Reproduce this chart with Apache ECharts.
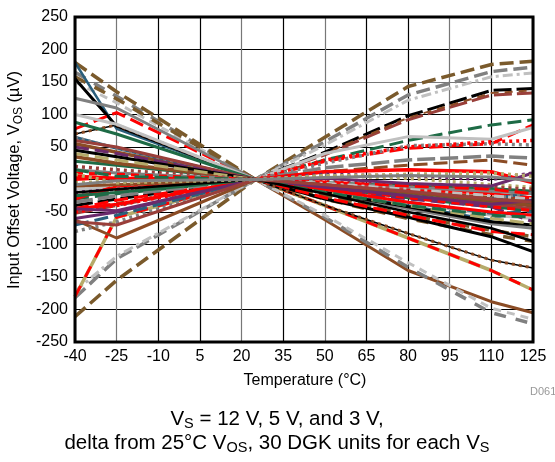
<!DOCTYPE html>
<html>
<head>
<meta charset="utf-8">
<script src="https://cdn.jsdelivr.net/npm/echarts@6/dist/echarts.min.js"></script>
<style>
html,body{margin:0;padding:0;background:#fff;}
#chart{width:555px;height:462px;}
</style>
</head>
<body>
<div id="chart"></div>
<script>
// Temperatures (°C) at which each unit's offset delta is read
const temps = [-40, -25, 25, 50, 80, 110, 125];

// X axis tick labels
const xTicks = [-40, -25, -10, 5, 20, 35, 50, 65, 80, 95, 110, 125];
// Y axis tick labels
const yTicks = [-250, -200, -150, -100, -50, 0, 50, 100, 150, 200, 250];

// Delta Vos (µV) per unit, values at the temps above
const unitOffsets = [
  [-211, -155, 0, 65, 143, 177, 182],
  [-182, -122, 0, 58, 130, 166, 173],
  [-172, -118, 0, 53, 122, 158, 164],
  [-180, -58, 0, -40, -90, -140, -170],
  [-62, -90, 0, -62, -140, -188, -205],
  [165, 128, 0, -58, -135, -205, -222],
  [150, 118, 0, -55, -128, -198, -215],
  [180, 135, 0, -25, -55, -78, -88],
  [158, 124, 0, -30, -60, -85, -95],
  [180, 78, 0, -18, -40, -62, -40],
  [155, 82, 0, -30, -58, -88, -111],
  [70, 84, 0, -40, -83, -124, -136],
  [78, 103, 0, -28, -55, -80, -85],
  [125, 110, 0, -20, -45, -68, -75],
  [100, 85, 0, -15, -35, -55, -60],
  [88, 70, 0, -12, -28, -42, -48],
  [-40, -30, 0, 42, 98, 137, 140],
  [-52, -40, 0, 38, 92, 130, 133],
  [-48, -36, 0, 40, 95, 133, 137],
  [-30, -22, 0, 30, 60, 84, 92],
  [-45, -32, 0, 28, 48, 55, 84],
  [-15, -12, 0, 40, 66, 62, 80],
  [-80, -65, 0, 25, 52, 55, 53],
  [-50, -40, 0, 30, 50, 58, 60],
  [-35, -25, 0, 18, 30, 36, 33],
  [-25, -18, 0, 12, 22, 30, 22],
  [5, 2, 0, 12, 15, 12, -5],
  [-20, -15, 0, 8, 5, 0, 10],
  [-5, -3, 0, 6, 2, -8, -12],
  [28, 22, 0, -5, -10, -14, -18],
  [55, 42, 0, -8, -18, -28, -30],
  [35, 25, 0, -12, -25, -35, -40],
  [-30, -10, 0, -6, -15, -22, -28],
  [65, 48, 0, -10, -22, -30, -20],
  [60, 50, 0, -10, -25, -38, -45],
  [50, 40, 0, -15, -30, -42, -65],
  [45, 35, 0, -20, -42, -65, -70],
  [40, 30, 0, -20, -40, -60, -68],
  [20, 15, 0, -3, -8, -12, -15],
  [15, 10, 0, -5, -12, -18, -22],
  [0, 3, 0, -4, -10, -15, -22],
  [-15, -8, 0, -6, -15, -25, -30],
  [-60, -50, 0, 2, -6, -10, 10],
  [-70, -55, 0, -15, -35, -52, -50],
  [-45, -38, 0, -15, -35, -50, -55],
  [-25, -20, 0, -8, -20, -32, -38],
  [-10, -8, 0, -8, -20, -32, -40],
  [10, 8, 0, -12, -28, -42, -48],
  [-45, -48, 0, -12, -25, -38, -32],
  [15, 5, 0, -20, -40, -55, -58],
  [-20, -15, 0, -22, -50, -75, -95],
  [-65, -70, 0, -8, -18, -30, -35],
  [8, -5, 0, 5, 8, 10, 5],
  [-8, -2, 0, 3, 6, 4, -2]
];

// Drawing styles (kept apart from the data)
const palette = {
  black: '#000000', red: '#ff0000', brownD: '#7a5a2c', brown: '#8b4c25',
  gray: '#808080', ltgray: '#c0c0c0', green: '#1e6b46', teal: '#2b5f7c',
  purple: '#6b2a6b', khaki: '#b5ab6a', maroon: '#9a3f3a'
};
const dashes = {
  solid: 'solid', long: [14, 6], long2: [12, 10], med: [8, 6], dot: [3, 4],
  dashdot: [10, 4, 3, 4], mix: [18, 5]
};
const unitStyles = [
  {c: 'brownD', d: 'long', w: 3.5},
  {c: 'gray', d: 'long', w: 3.5},
  {c: 'ltgray', d: 'dashdot', w: 3},
  {c: 'khaki', d: 'solid', w: 3.5, c2: 'red', d2: 'long2', w2: 3},
  {c: 'brown', d: 'solid', w: 3},
  {c: 'gray', d: 'long2', w: 3.5},
  {c: 'ltgray', d: 'med', w: 3},
  {c: 'brownD', d: 'long', w: 3.5},
  {c: 'brownD', d: 'long2', w: 3.5},
  {c: 'teal', d: 'solid', w: 2.5},
  {c: 'black', d: 'solid', w: 3},
  {c: 'black', d: 'solid', w: 1.5, c2: 'brown', d2: 'dot', w2: 3},
  {c: 'red', d: 'long', w: 3},
  {c: 'gray', d: 'solid', w: 3},
  {c: 'ltgray', d: 'solid', w: 3},
  {c: 'green', d: 'solid', w: 3},
  {c: 'black', d: 'mix', w: 3},
  {c: 'maroon', d: 'mix', w: 3},
  {c: 'brown', d: 'med', w: 2},
  {c: 'green', d: 'long', w: 3},
  {c: 'red', d: 'long', w: 3},
  {c: 'ltgray', d: 'solid', w: 3},
  {c: 'gray', d: 'dot', w: 3.5},
  {c: 'red', d: 'dot', w: 3.5},
  {c: 'gray', d: 'mix', w: 3.5},
  {c: 'brown', d: 'long', w: 3},
  {c: 'red', d: 'solid', w: 3.5},
  {c: 'purple', d: 'dot', w: 3.5},
  {c: 'khaki', d: 'dot', w: 3.5},
  {c: 'green', d: 'solid', w: 3},
  {c: 'brown', d: 'solid', w: 3.5},
  {c: 'brown', d: 'solid', w: 3.5},
  {c: 'red', d: 'solid', w: 3},
  {c: 'teal', d: 'solid', w: 3, c2: 'gray', d2: 'dot', w2: 3},
  {c: 'maroon', d: 'solid', w: 3},
  {c: 'purple', d: 'long', w: 3},
  {c: 'black', d: 'solid', w: 3},
  {c: 'khaki', d: 'long', w: 3},
  {c: 'maroon', d: 'dot', w: 3.5},
  {c: 'gray', d: 'solid', w: 3},
  {c: 'red', d: 'long', w: 3},
  {c: 'ltgray', d: 'dashdot', w: 3},
  {c: 'purple', d: 'solid', w: 3},
  {c: 'teal', d: 'long', w: 3},
  {c: 'red', d: 'solid', w: 3},
  {c: 'green', d: 'solid', w: 3},
  {c: 'brown', d: 'solid', w: 3},
  {c: 'red', d: 'med', w: 3},
  {c: 'purple', d: 'solid', w: 3},
  {c: 'green', d: 'long', w: 3},
  {c: 'black', d: 'solid', w: 2.5},
  {c: 'maroon', d: 'solid', w: 3},
  {c: 'khaki', d: 'dot', w: 3.5},
  {c: 'gray', d: 'solid', w: 3}
];

const series = [];
function lineSeries(vals, color, dash, width) {
  return {
    type: 'line', data: temps.map((t, i) => [t, vals[i]]),
    symbol: 'none', showSymbol: false, silent: true, animation: false,
    lineStyle: {color: palette[color], width: width, type: dashes[dash], cap: 'butt', join: 'round'},
    z: 2
  };
}
unitOffsets.forEach((vals, i) => {
  const s = unitStyles[i % unitStyles.length];
  series.push(lineSeries(vals, s.c, s.d, s.w));
  if (s.c2) series.push(lineSeries(vals, s.c2, s.d2, s.w2));
});

const font = '"Liberation Sans", Arial, sans-serif';
const chart = echarts.init(document.getElementById('chart'), null, {renderer: 'canvas'});
chart.setOption({
  animation: false,
  backgroundColor: '#fff',
  grid: {left: 75, top: 17, right: 22, bottom: 120, show: true, borderColor: '#000', borderWidth: 3, backgroundColor: 'transparent', z: 5},
  xAxis: {
    type: 'value', min: xTicks[0], max: xTicks[xTicks.length - 1], interval: 15,
    axisLine: {show: false}, axisTick: {show: false},
    axisLabel: {color: '#000', fontSize: 16, fontFamily: font, margin: 7},
    splitLine: {show: true, lineStyle: {color: ['#000', '#777', '#000', '#000', '#777', '#000', '#777', '#000', '#000', '#777', '#000', '#000'], width: 1.2}}
  },
  yAxis: {
    type: 'value', min: yTicks[0], max: yTicks[yTicks.length - 1], interval: 50,
    axisLine: {show: false}, axisTick: {show: false},
    axisLabel: {color: '#000', fontSize: 16, fontFamily: font, margin: 7},
    splitLine: {show: true, lineStyle: {color: ['#000', '#000', '#000', '#000', '#000', '#000', '#000', '#000', '#777', '#000', '#000'], width: 1.2}}
  },
  graphic: [
    {type: 'text', x: 305, y: 381, style: {text: 'Temperature (°C)', font: '16px ' + font, fill: '#000', align: 'center', verticalAlign: 'middle'}},
    {type: 'text', x: 14, y: 180, rotation: Math.PI / 2, style: {
      text: '{a|Input Offset Voltage, V}{s|OS}{a| (µV)}', align: 'center', verticalAlign: 'middle',
      rich: {a: {fontSize: 16.5, fontFamily: font, fill: '#000', lineHeight: 22, verticalAlign: 'middle'},
             s: {fontSize: 12, fontFamily: font, fill: '#000', lineHeight: 22, verticalAlign: 'bottom'}}
    }},
    {type: 'text', x: 530, y: 392, style: {text: 'D061', font: '11px ' + font, fill: '#999', align: 'left', verticalAlign: 'middle'}},
    {type: 'text', x: 277, y: 419, style: {
      text: '{a|V}{s|S}{a| = 12 V, 5 V, and 3 V,}', align: 'center', verticalAlign: 'middle',
      rich: {a: {fontSize: 20.5, fontFamily: font, fill: '#000', lineHeight: 24, verticalAlign: 'middle'},
             s: {fontSize: 14.5, fontFamily: font, fill: '#000', lineHeight: 24, verticalAlign: 'bottom'}}
    }},
    {type: 'text', x: 277, y: 443, style: {
      text: '{a|delta from 25°C V}{s|OS}{a|, 30 DGK units for each V}{s|S}', align: 'center', verticalAlign: 'middle',
      rich: {a: {fontSize: 20.5, fontFamily: font, fill: '#000', lineHeight: 24, verticalAlign: 'middle'},
             s: {fontSize: 14.5, fontFamily: font, fill: '#000', lineHeight: 24, verticalAlign: 'bottom'}}
    }}
  ],
  series: series
});
</script>
</body>
</html>
